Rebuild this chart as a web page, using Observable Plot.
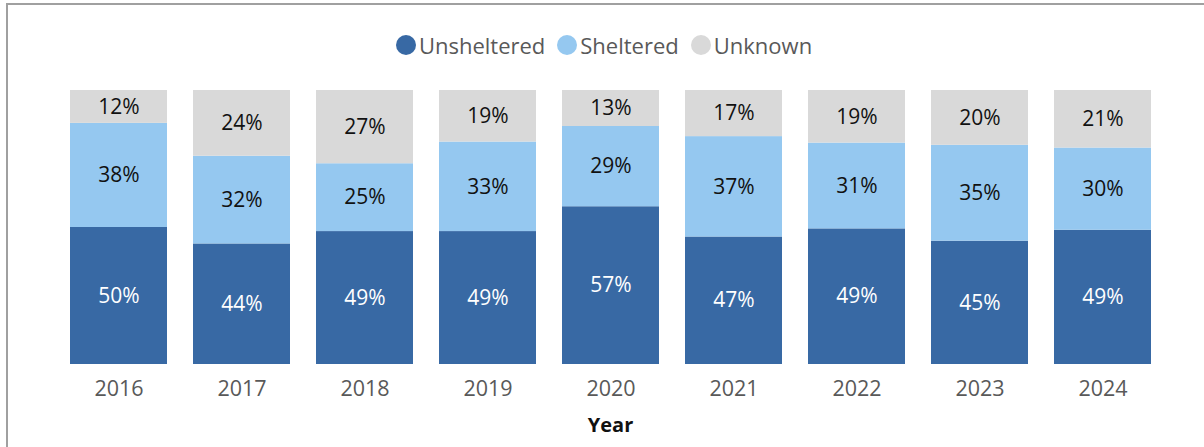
<!DOCTYPE html>
<html>
<head>
<meta charset="utf-8">
<script src="https://cdn.jsdelivr.net/npm/d3@7"></script>
<script src="https://cdn.jsdelivr.net/npm/@observablehq/plot@0.6"></script>
<style>
  html, body { margin: 0; padding: 0; background: #fff; }
  #wrap { position: relative; width: 1204px; height: 447px; overflow: hidden; font-family: "Open Sans", "Noto Sans", sans-serif; }
  #frame { position: absolute; left: 6px; top: 3px; width: 1400px; height: 600px; border: 2px solid #a0a0a0; box-sizing: border-box; pointer-events: none; }
  #legend { height: 70px; padding-top: 20px; box-sizing: border-box; display: flex; justify-content: center; align-items: center; gap: 12px; font-size: 22px; color: #595959; padding-left: 4px; }
  #legend .item { display: flex; align-items: center; }
  #legend .sw { width: 20px; height: 20px; border-radius: 50%; display: inline-block; margin-right: 3px; }
  #chart { position: absolute; left: 0; top: 70px; }
</style>
</head>
<body>
<div id="wrap">
  <div id="frame"></div>
  <div id="legend"></div>
  <div id="chart"></div>
</div>
<script>
const years = ["2016","2017","2018","2019","2020","2021","2022","2023","2024"];
const statuses = ["Unsheltered","Sheltered","Unknown"];
const colors = ["#3869a4","#95c8f0","#d9d9d9"];
const unsheltered = [50,44,49,49,57,47,49,45,49];
const sheltered   = [38,32,25,33,29,37,31,35,30];
const unknown     = [12,24,27,19,13,17,19,20,21];

const series = [unsheltered, sheltered, unknown];
const data = [];
statuses.forEach((s, i) => {
  years.forEach((y, j) => data.push({year: y, status: s, value: series[i][j]}));
});

// legend
const legend = document.getElementById("legend");
statuses.forEach((s, i) => {
  const it = document.createElement("span");
  it.className = "item";
  it.innerHTML = `<span class="sw" style="background:${colors[i]}"></span>${s}`;
  legend.appendChild(it);
});

const stackOpts = {x: "year", y: "value", z: "status", offset: "normalize", order: statuses};

const plot = Plot.plot({
  width: 1204,
  height: 377,
  marginLeft: 41,
  marginRight: 25,
  marginTop: 20,
  marginBottom: 83,
  style: {fontFamily: "'Open Sans', 'Noto Sans', sans-serif", background: "transparent"},
  x: {domain: years, padding: 0.214, label: null},
  y: {axis: null, domain: [0, 1]},
  color: {domain: statuses, range: colors},
  marks: [
    Plot.barY(data, Plot.stackY({...stackOpts, fill: "status"})),
    Plot.text(data, Plot.filter(d => d.status === "Unsheltered", Plot.stackY({...stackOpts, text: d => d.value + "%", fill: "white", fontSize: 21}))),
    Plot.text(data, Plot.filter(d => d.status !== "Unsheltered", Plot.stackY({...stackOpts, text: d => d.value + "%", fill: "#111", fontSize: 21}))),
    Plot.axisX({tickSize: 0, tickPadding: 16, fontSize: 21.5, color: "#595959", label: null}),
    Plot.text(["Year"], {frameAnchor: "bottom", dy: 61, lineAnchor: "middle", fontSize: 20, fontWeight: "bold", fill: "#111"})
  ]
});
document.getElementById("chart").appendChild(plot);
</script>
</body>
</html>
